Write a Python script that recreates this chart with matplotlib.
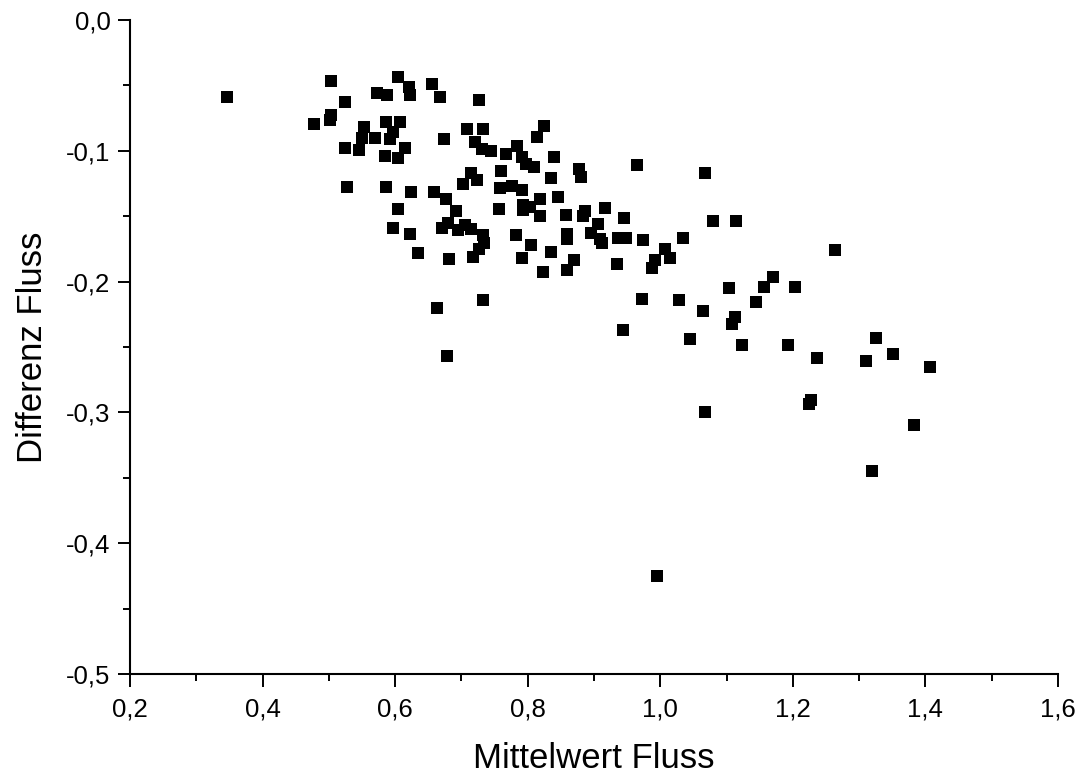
import matplotlib
matplotlib.use("Agg")
import matplotlib.pyplot as plt
import matplotlib.ticker as mticker
import numpy as np

# Mittelwert / Differenz Fluss
mittelwert = [
    0.346, 0.504, 0.605, 0.621, 0.623, 0.572, 0.587, 0.656, 0.667, 0.524,
    0.503, 0.501, 0.477, 0.553, 0.586, 0.607, 0.597, 0.550, 0.570, 0.592,
    0.674, 0.524, 0.546, 0.615, 0.585, 0.605, 0.527, 0.586, 0.624, 0.658,
    0.677, 0.692, 0.605, 0.597, 0.622, 0.670, 0.680, 0.726, 0.709, 0.732,
    0.825, 0.814, 0.720, 0.731, 0.745, 0.768, 0.784, 0.792, 0.798, 0.810,
    0.840, 0.965, 0.878, 0.880, 0.760, 0.715, 0.723, 0.702, 0.835, 0.758,
    0.776, 0.791, 0.756, 0.818, 0.846, 0.793, 0.803, 0.793, 0.818, 0.858,
    0.886, 0.883, 0.917, 0.946, 0.906, 0.705, 0.715, 0.695, 0.733, 0.783,
    0.859, 0.896, 0.936, 0.949, 0.974, 1.034, 0.634, 0.734, 0.726, 0.717,
    0.682, 0.805, 0.835, 0.792, 0.823, 0.733, 0.663, 0.678, 1.080, 1.115,
    0.859, 0.909, 0.912, 1.007, 0.870, 0.859, 0.935, 0.992, 1.015, 0.987,
    1.170, 1.103, 1.157, 1.203, 1.144, 0.972, 1.029, 1.065, 1.112, 1.108,
    0.944, 1.045, 1.124, 1.193, 1.067, 1.264, 1.326, 1.236, 1.310, 1.351,
    1.407, 1.227, 1.225, 1.067, 1.383, 1.320, 0.995,
]
differenz = [
    -0.0586, -0.0466, -0.0438, -0.0510, -0.0573, -0.0560, -0.0573, -0.0492, -0.0591, -0.0625,
    -0.0726, -0.0765, -0.0795, -0.0816, -0.0782, -0.0782, -0.0854, -0.0904, -0.0904, -0.0910,
    -0.0910, -0.0981, -0.0994, -0.0981, -0.1040, -0.1053, -0.1279, -0.1279, -0.1313, -0.1317,
    -0.1371, -0.1458, -0.1447, -0.1593, -0.1636, -0.1593, -0.1554, -0.0612, -0.0836, -0.0831,
    -0.0808, -0.0897, -0.0935, -0.0989, -0.1002, -0.1024, -0.0963, -0.1045, -0.1103, -0.1122,
    -0.1045, -0.1109, -0.1141, -0.1198, -0.1154, -0.1172, -0.1223, -0.1256, -0.1210, -0.1282,
    -0.1267, -0.1300, -0.1447, -0.1369, -0.1356, -0.1414, -0.1427, -0.1453, -0.1498, -0.1491,
    -0.1458, -0.1498, -0.1440, -0.1511, -0.1562, -0.1567, -0.1598, -0.1606, -0.1644, -0.1644,
    -0.1638, -0.1631, -0.1667, -0.1667, -0.1682, -0.1667, -0.1779, -0.1707, -0.1753, -0.1814,
    -0.1830, -0.1720, -0.1771, -0.1822, -0.1929, -0.2141, -0.2204, -0.2569, -0.1537, -0.1537,
    -0.1677, -0.1677, -0.1707, -0.1753, -0.1835, -0.1911, -0.1868, -0.1835, -0.1817, -0.1898,
    -0.1963, -0.2047, -0.2039, -0.2039, -0.2158, -0.2133, -0.2141, -0.2225, -0.2268, -0.2324,
    -0.2370, -0.2439, -0.2485, -0.2485, -0.1167, -0.1758, -0.2434, -0.2586, -0.2607, -0.2556,
    -0.2655, -0.2905, -0.2936, -0.2995, -0.3096, -0.3448, -0.4251,
]

plt.rcParams["font.family"] = ["Liberation Sans", "DejaVu Sans"]

fig = plt.figure(figsize=(10.85, 7.74), dpi=100)
ax = fig.add_axes([0.1198, 0.1292, 0.8553, 0.845])

ax.scatter(mittelwert, differenz, marker="s", s=74, color="black",
           linewidths=0, clip_on=False, zorder=3)

ax.set_xlim(0.2, 1.6)
ax.set_ylim(-0.5, 0.0)
ax.xaxis.set_major_locator(mticker.MultipleLocator(0.2))
ax.xaxis.set_minor_locator(mticker.MultipleLocator(0.1))
ax.yaxis.set_major_locator(mticker.MultipleLocator(0.1))
ax.yaxis.set_minor_locator(mticker.MultipleLocator(0.05))

komma = mticker.FuncFormatter(lambda v, _: f"{v:.1f}".replace(".", ",").replace("-0,0", "0,0"))
ax.xaxis.set_major_formatter(komma)
ax.yaxis.set_major_formatter(komma)

for side in ("top", "right"):
    ax.spines[side].set_visible(False)
for side in ("left", "bottom"):
    ax.spines[side].set_linewidth(1.5)

ax.tick_params(which="major", direction="out", length=9, width=1.4,
               labelsize=18.5, pad=5)
ax.tick_params(which="minor", direction="out", length=5, width=1.4)
ax.tick_params(axis="x", which="major", pad=8)

ax.set_xlabel("Mittelwert Fluss", fontsize=25, labelpad=15)
ax.set_ylabel("Differenz Fluss", fontsize=25, labelpad=12)

fig.savefig("out.png", dpi=100)
